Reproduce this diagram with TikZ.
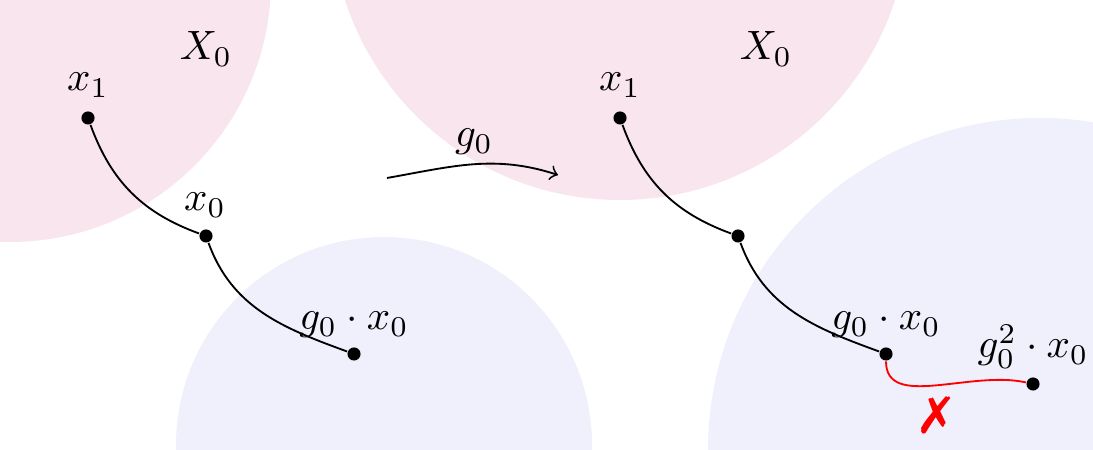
\documentclass[tikz,border=0pt]{standalone}
\usepackage{pifont}
\definecolor{pinkfill}{RGB}{248,229,237}
\definecolor{bluefill}{RGB}{240,240,252}
\begin{document}
\begin{tikzpicture}[x=0.2439pt,y=0.2439pt,
  dot/.style={circle,fill=black,inner sep=0pt,minimum size=3.2pt},
  curve/.style={line width=0.45pt},
  lbl/.style={anchor=base,inner sep=0pt}]
\useasboundingbox (0,0) rectangle (1093,450);
\begin{scope}
\clip (0,0) rectangle (1093,450);
\fill[pinkfill] (10,469) circle[radius=261];
\fill[pinkfill] (620,539) circle[radius=289];
\fill[bluefill] (384,5) circle[radius=208];
\fill[bluefill] (1040,0) circle[radius=332];
\end{scope}
% left panel
\node[dot] (a1) at (88,332) {};
\node[dot] (a0) at (206,214) {};
\node[dot] (a2) at (354,96) {};
\node[lbl] (la1) at (88,359) {$x_1$};
\node[lbl] (la0) at (205,239) {$x_0$};
\node[lbl] (la2) at (354,120) {$g_0\cdot x_0$};
\node[lbl] (lX1) at (206,390) {$X_0$};
\draw[curve] (a1) to[out=-70,in=160] (a0);
\draw[curve] (a0) to[out=-70,in=160] (a2);
% arrow
\coordinate (s) at (387,272);
\coordinate (e) at (558,275);
\draw[curve,->] (s) to[out=10,in=162] (e);
\node[lbl] (lg) at (474,303) {$g_0$};
% right panel
\node[dot] (b1) at (620,332) {};
\node[dot] (b0) at (738,214) {};
\node[dot] (b2) at (886,96) {};
\node[dot] (b3) at (1033,66) {};
\node[lbl] (lb1) at (620,359) {$x_1$};
\node[lbl] (lb2) at (886,120) {$g_0\cdot x_0$};
\node[lbl] (lb3) at (1033,92) {$g_0^2\cdot x_0$};
\node[lbl] (lX2) at (766,390) {$X_0$};
\draw[curve] (b1) to[out=-70,in=160] (b0);
\draw[curve] (b0) to[out=-70,in=160] (b2);
\draw[curve,red] (b2) .. controls +(0,-56) and +(-63,14) .. (b3);
\node[text=red,inner sep=0pt,scale=1.25] (cross) at (936,35) {\ding{55}};
\end{tikzpicture}
\end{document}
